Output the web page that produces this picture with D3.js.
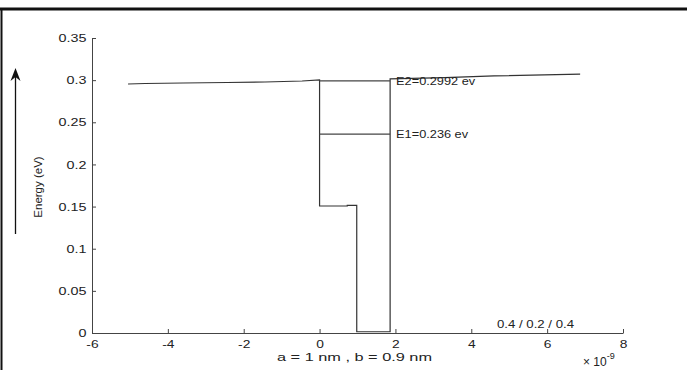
<!DOCTYPE html>
<html>
<head>
<meta charset="utf-8">
<script src="https://cdn.jsdelivr.net/npm/d3@7"></script>
<style>
  body { margin: 0; background: #fff; }
  text { font-family: "Liberation Sans", Arial, sans-serif; fill: #222; }
</style>
</head>
<body>
<svg id="chart" width="687" height="370"></svg>
<script>
(function() {

  // axis ticks
  var xTicks = [-6, -4, -2, 0, 2, 4, 6, 8];
  var yTicks = [0, 0.05, 0.1, 0.15, 0.2, 0.25, 0.3, 0.35];

  // potential profile (x in nm, energy in eV)
  var profileX = [-5.05, -4.6, -3.6, -2.44, -1.44, -0.46, 0, 0, 0.73, 0.73, 0.98, 0.98, 1.86, 1.86, 3.3, 4.6, 6.87];
  var profileY = [0.2954, 0.2960, 0.2966, 0.2972, 0.2978, 0.2990, 0.3002, 0.1507, 0.1507, 0.1515, 0.1515, 0.0015, 0.0015, 0.3015, 0.3030, 0.3050, 0.3072];

  // bound states
  var levelNames = ["E1=0.236 ev", "E2=0.2992 ev"];
  var levelValues = [0.236, 0.2992];
  var wellRange = [0, 1.86];

  var svg = d3.select('#chart');

  var x = d3.scaleLinear().domain([-6, 8]).range([92, 623]);
  var y = d3.scaleLinear().domain([0, 0.35]).range([333, 38]);

  // frame (top + left only)
  svg.append('line')
      .attr('x1', 0).attr('x2', 687)
      .attr('y1', 9).attr('y2', 9)
      .attr('stroke', '#111')
      .attr('stroke-width', 3);
  svg.append('line')
      .attr('x1', 1.5).attr('x2', 1.5)
      .attr('y1', 9).attr('y2', 370)
      .attr('stroke', '#111')
      .attr('stroke-width', 2);

  // axes
  var xAxis = svg.append('g')
      .attr('transform', 'translate(0,' + y(0) + ')')
      .call(d3.axisBottom(x).tickValues(xTicks).tickSizeInner(-4).tickSizeOuter(0)
        .tickFormat(function(d) { return String(d); }));
  var yAxis = svg.append('g')
      .attr('transform', 'translate(' + x(-6) + ',0)')
      .call(d3.axisLeft(y).tickValues(yTicks).tickSizeInner(-4).tickSizeOuter(0)
        .tickFormat(function(d) { return d === 0 ? '0' : d3.format('.2~f')(d); }));

  [xAxis, yAxis].forEach(function(g) {
    g.select('.domain').attr('stroke', '#444');
    g.selectAll('.tick line').attr('stroke', '#444');
    g.selectAll('text')
        .attr('font-size', '11.5px')
        .attr('font-family', '"Liberation Sans", Arial, sans-serif')
        .attr('fill', '#222');
  });
  xAxis.selectAll('text').attr('y', 7).attr('dy', '0.71em')
      .attr('transform', 'scale(1.2,1)');
  yAxis.selectAll('text').attr('x', -4.5)
      .attr('transform', 'scale(1.25,1)');

  // potential profile
  var pts = profileX.map(function(d, i) { return [d, profileY[i]]; });
  svg.append('path')
      .datum(pts)
      .attr('d', d3.line().x(function(d) { return x(d[0]); }).y(function(d) { return y(d[1]); }))
      .attr('fill', 'none')
      .attr('stroke', '#333')
      .attr('stroke-width', 1.2);

  // energy levels
  levelValues.forEach(function(v, i) {
    svg.append('line')
        .attr('x1', x(wellRange[0])).attr('x2', x(wellRange[1]))
        .attr('y1', y(v)).attr('y2', y(v))
        .attr('stroke', '#444')
        .attr('stroke-width', 1.2);
    svg.append('text')
        .attr('x', x(wellRange[1]) + 6)
        .attr('y', y(v) + 4)
        .attr('font-size', '11px')
        .attr('textLength', i === 0 ? 72 : 79)
        .attr('lengthAdjust', 'spacingAndGlyphs')
        .text(levelNames[i]);
  });

  // labels
  svg.append('text')
      .attr('transform', 'translate(42,187) rotate(-90)')
      .attr('text-anchor', 'middle')
      .attr('font-size', '11.5px')
      .text('Energy (eV)');

  svg.append('text')
      .attr('x', 277).attr('y', 361)
      .attr('font-size', '11.5px')
      .attr('textLength', 155)
      .attr('lengthAdjust', 'spacingAndGlyphs')
      .text('a = 1 nm , b = 0.9 nm');

  svg.append('text')
      .attr('x', 497).attr('y', 328)
      .attr('font-size', '11px')
      .attr('textLength', 77)
      .attr('lengthAdjust', 'spacingAndGlyphs')
      .text('0.4 / 0.2 / 0.4');

  var exp = svg.append('text')
      .attr('x', 583).attr('y', 366)
      .attr('font-size', '12px');
  exp.append('tspan').text('\u00d7 10');
  exp.append('tspan').attr('dy', -7).attr('font-size', '9px').text('-9');

  // arrow
  svg.append('line')
      .attr('x1', 15.5).attr('x2', 15.5)
      .attr('y1', 234).attr('y2', 76)
      .attr('stroke', '#111')
      .attr('stroke-width', 1.3);
  svg.append('path')
      .attr('d', 'M15.5,68 L10.5,81 L15.5,77 L20.5,81 Z')
      .attr('fill', '#111');

})();
</script>
</body>
</html>
